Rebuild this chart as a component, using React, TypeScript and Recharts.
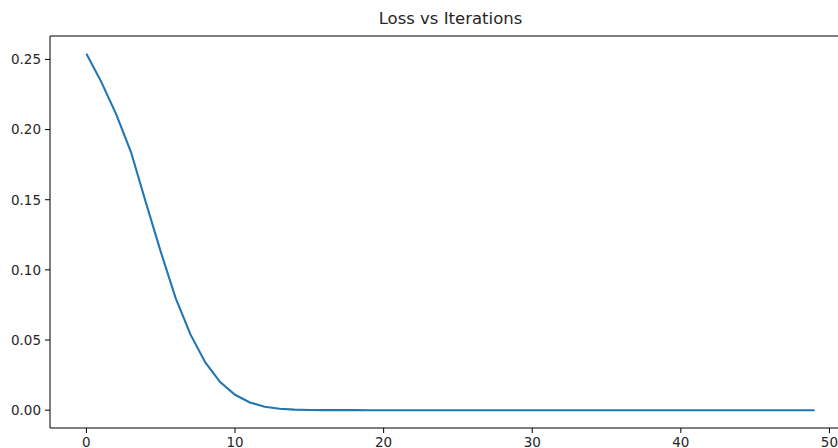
import { LineChart, Line, XAxis, YAxis, ReferenceLine } from "recharts";

const iterations = Array.from({ length: 50 }, (_, i) => i);

// loss values, one per iteration
const lossValues = [
  0.254, 0.234, 0.211, 0.184, 0.148, 0.113, 0.08, 0.054, 0.034, 0.02,
  0.011, 0.0055, 0.0025, 0.001, 0.0004, 0.00015, 0.00005, 0.00002, 0.00001, 0,
  0, 0, 0, 0, 0, 0, 0, 0, 0, 0,
  0, 0, 0, 0, 0, 0, 0, 0, 0, 0,
  0, 0, 0, 0, 0, 0, 0, 0, 0, 0,
];

const xTicks = [0, 10, 20, 30, 40, 50];
const yTicks = [0, 0.05, 0.1, 0.15, 0.2, 0.25];

const chartData = iterations.map((iter) => ({
  iter,
  loss: lossValues[iter],
}));

const yMax = 0.2667;
const font = "'DejaVu Sans', sans-serif";
const tickStyle = { fill: "#262626", fontSize: 13.5, fontFamily: font };

const App = () => {
  return (
    <div
      style={{
        position: "absolute",
        left: 0,
        top: 0,
        width: 838,
        height: 448,
        overflow: "hidden",
        background: "#fff",
      }}
    >
      <div
        style={{
          position: "absolute",
          left: 0,
          width: 901,
          top: 9,
          textAlign: "center",
          fontFamily: font,
          fontSize: 16.5,
          color: "#262626",
        }}
      >
        Loss vs Iterations
      </div>
      <LineChart
        width={860}
        height={448}
        data={chartData}
        margin={{ top: 36, right: 9, bottom: 0, left: 0 }}
      >
        <XAxis
          dataKey="iter"
          type="number"
          domain={[-2.45, 51.45]}
          ticks={xTicks}
          allowDataOverflow
          height={20}
          tickSize={5}
          tickMargin={4}
          stroke="#000"
          tick={tickStyle}
        />
        <YAxis
          type="number"
          domain={[-0.0127, yMax]}
          ticks={yTicks}
          allowDataOverflow
          width={50}
          tickSize={5}
          tickMargin={4}
          stroke="#000"
          tick={tickStyle}
          tickFormatter={(v: number) => v.toFixed(2)}
        />
        {/* top spine */}
        <ReferenceLine y={yMax} stroke="#000" strokeWidth={1.1} />
        <Line
          type="linear"
          dataKey="loss"
          stroke="#1f77b4"
          strokeWidth={2.1}
          dot={false}
          isAnimationActive={false}
        />
      </LineChart>
    </div>
  );
};

export default App;
